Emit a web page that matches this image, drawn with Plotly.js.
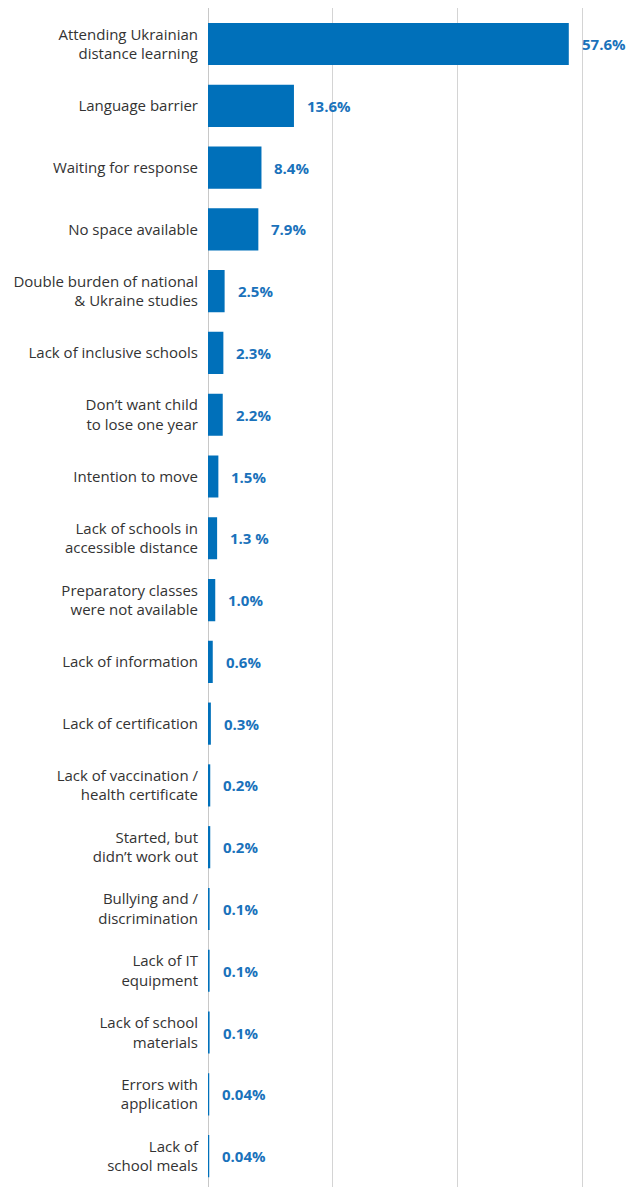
<!DOCTYPE html>
<html>
<head>
<meta charset="utf-8">
<script src="https://cdn.plot.ly/plotly-3.0.1.min.js"></script>
<style>html,body{margin:0;padding:0;background:#fff;}#chart{width:639px;height:1187px;}</style>
</head>
<body>
<div id="chart"></div>
<script>
const categories = [
  "Attending Ukrainian<br>distance learning",
  "Language barrier",
  "Waiting for response",
  "No space available",
  "Double burden of national<br>& Ukraine studies",
  "Lack of inclusive schools",
  "Don’t want child<br>to lose one year",
  "Intention to move",
  "Lack of schools in<br>accessible distance",
  "Preparatory classes<br>were not available",
  "Lack of information",
  "Lack of certification",
  "Lack of vaccination /<br>health certificate",
  "Started, but<br>didn’t work out",
  "Bullying and /<br>discrimination",
  "Lack of IT<br>equipment",
  "Lack of school<br>materials",
  "Errors with<br>application",
  "Lack of<br>school meals"
];
const values = [57.6, 13.6, 8.4, 7.9, 2.5, 2.3, 2.2, 1.5, 1.3, 1.0, 0.6, 0.3, 0.2, 0.2, 0.1, 0.1, 0.1, 0.04, 0.04];
const valueLabels = ["57.6%", "13.6%", "8.4%", "7.9%", "2.5%", "2.3%", "2.2%", "1.5%", "1.3 %", "1.0%", "0.6%", "0.3%", "0.2%", "0.2%", "0.1%", "0.1%", "0.1%", "0.04%", "0.04%"];
const gridTicks = [0, 20, 40, 60];

const BLUE = "#0070BA";
const idx = categories.map((_, i) => i);

const trace = {
  type: "bar",
  orientation: "h",
  x: values,
  y: idx,
  marker: {color: BLUE, line: {color: BLUE, width: 2}},
  hoverinfo: "none"
};

const annotations = values.map((v, i) => ({
  x: v, y: i, xref: "x", yref: "y",
  text: "<b>" + valueLabels[i] + "</b>",
  showarrow: false, xanchor: "left", yanchor: "middle",
  xshift: 12,
  font: {family: "'Open Sans', sans-serif", size: 15, color: "#1a72bb"}
}));

const layout = {
  width: 639, height: 1187,
  margin: {l: 208, r: 0, t: 8, b: 0},
  paper_bgcolor: "#fff", plot_bgcolor: "#fff",
  showlegend: false,
  bargap: 0.35,
  xaxis: {
    range: [0, 69], tickvals: gridTicks, showticklabels: false,
    showgrid: true, gridcolor: "#d4d4d4", gridwidth: 1,
    zeroline: true, zerolinecolor: "#c8c8c8", zerolinewidth: 1,
    showline: false, ticks: "", fixedrange: true
  },
  yaxis: {
    range: [18.5, -0.583],
    tickvals: idx, ticktext: categories,
    showgrid: false, zeroline: false, showline: false, ticks: "",
    ticklabelstandoff: 9,
    tickfont: {family: "'Open Sans', sans-serif", size: 15, color: "#333333"},
    fixedrange: true
  },
  annotations: annotations
};

Plotly.newPlot("chart", [trace], layout, {displayModeBar: false, staticPlot: true});
</script>
</body>
</html>
